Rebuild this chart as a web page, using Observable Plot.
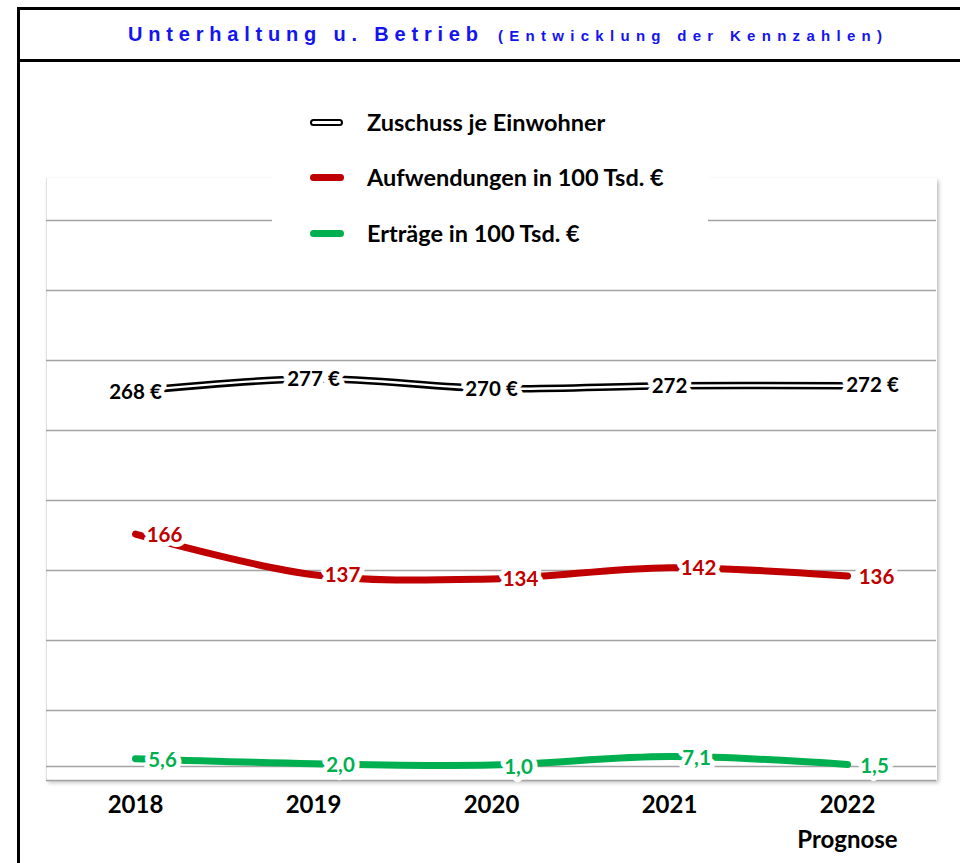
<!DOCTYPE html>
<html><head><meta charset="utf-8">
<script src="https://cdn.jsdelivr.net/npm/d3@7"></script>
<script src="https://cdn.jsdelivr.net/npm/@observablehq/plot@0.6"></script>
<style>
html,body{margin:0;padding:0;background:#fff;}
#page{position:relative;width:960px;height:863px;overflow:hidden;font-family:Lato, sans-serif;}
#frameLeft{position:absolute;left:17px;top:7px;width:2.5px;height:900px;background:#000;}
#frameTop{position:absolute;left:17px;top:7px;width:960px;height:2.5px;background:#000;}
#frameSep{position:absolute;left:17px;top:59px;width:960px;height:2.5px;background:#000;}
#titlesvg{position:absolute;left:0;top:0;}
#plotbox{position:absolute;left:46px;top:178px;width:890px;height:602px;background:#fff;
  border-left:1px solid #e2e2e2;box-shadow:2px 3px 4px rgba(0,0,0,0.22), 1px 0 2px rgba(0,0,0,0.06);}
#chart{position:absolute;left:0;top:70px;}
#legend{position:absolute;left:272px;top:95px;width:436px;height:160px;background:#fff;}
.li{position:absolute;left:95px;font:bold 23.5px Lato, sans-serif;line-height:28px;color:#000;white-space:nowrap;}
.sw{position:absolute;left:38px;width:34px;border-radius:4px;}
</style></head>
<body><div id="page">
<div id="frameLeft"></div><div id="frameTop"></div><div id="frameSep"></div>
<svg id="titlesvg" width="960" height="60">
  <text x="128" y="41" textLength="350" lengthAdjust="spacing" font-family="Liberation Sans Narrow, Liberation Sans, Arial, sans-serif" font-weight="bold" font-size="20" fill="#1414f0">Unterhaltung u. Betrieb</text>
  <text x="498" y="41" textLength="384" lengthAdjust="spacing" font-family="Liberation Sans Narrow, Liberation Sans, Arial, sans-serif" font-weight="bold" font-size="15" fill="#1414f0">(Entwicklung der Kennzahlen)</text>
</svg>
<div id="plotbox"></div>
<div id="chartwrap"></div>
<div id="legend"></div>
</div>
<script>
const years = ["2018", "2019", "2020", "2021", "2022"];
const zuschuss = [268, 277, 270, 272, 272];
const zuschussLabels = ["268 €", "277 €", "270 €", "272", "272 €"];
const aufwendungen = [166, 137, 134, 142, 136];
const ertraege = [5.6, 2.0, 1.0, 7.1, 1.5];
const gridValues = [-10, 40, 90, 140, 190, 240, 290, 340, 390];
const zeroLine = [0];
const xTickExtra = {"2022": "Prognose"};
const seriesNames = ["Zuschuss je Einwohner", "Aufwendungen in 100 Tsd. €", "Erträge in 100 Tsd. €"];
const colors = {zuschuss: "#000000", aufwendungen: "#c00000", ertraege: "#00b050"};

const fmtDE = v => v.toFixed(1).replace(".", ",");
const z = years.map((year, i) => ({year, value: zuschuss[i], label: zuschussLabels[i]}));
const a = years.map((year, i) => ({year, value: aufwendungen[i], label: String(aufwendungen[i])}));
const e = years.map((year, i) => ({year, value: ertraege[i], label: fmtDE(ertraege[i])}));

const textBase = {x: "year", y: "value", text: "label", fontSize: 20.5, fontWeight: "bold",
  stroke: "white", strokeWidth: 10, paintOrder: "stroke", strokeLinejoin: "round"};

const chart = Plot.plot({
  width: 960, height: 793,
  marginTop: 108, marginBottom: 83, marginLeft: 46, marginRight: 24,
  style: {background: "transparent", fontFamily: "Lato, sans-serif", overflow: "visible"},
  x: {type: "point", domain: years, padding: 0.5, label: null},
  y: {domain: [-10, 420], axis: null},
  marks: [
    Plot.ruleY(gridValues, {stroke: "#a3a3a3", strokeWidth: 1.3}),
    Plot.ruleY(zeroLine, {stroke: "#a3a3a3", strokeWidth: 1.3}),
    Plot.line(z, {x: "year", y: "value", stroke: colors.zuschuss, strokeWidth: 7.5, curve: "catmull-rom"}),
    Plot.line(z, {x: "year", y: "value", stroke: "#ffffff", strokeWidth: 2.4, curve: "catmull-rom"}),
    Plot.line(a, {x: "year", y: "value", stroke: colors.aufwendungen, strokeWidth: 7, curve: "catmull-rom", strokeLinecap: "round"}),
    Plot.line(e, {x: "year", y: "value", stroke: colors.ertraege, strokeWidth: 7, curve: "catmull-rom", strokeLinecap: "round"}),
    Plot.text(z, {...textBase, filter: d => d.year !== "2022", fill: colors.zuschuss, dy: 1}),
    Plot.text(z, {...textBase, filter: d => d.year === "2022", fill: colors.zuschuss, dx: 25, dy: 0}),
    Plot.text(a, {...textBase, fill: colors.aufwendungen, dx: 29, dy: 1}),
    Plot.text(e, {...textBase, fill: colors.ertraege, dx: 27, dy: 2}),
    Plot.axisX({tickSize: 0, tickPadding: 8, fontSize: 24, fontWeight: "bold", lineHeight: 1.46, label: null,
      tickFormat: d => xTickExtra[d] ? d + "\n" + xTickExtra[d] : d})
  ]
});
chart.id = "chart";
document.getElementById("chartwrap").appendChild(chart);

// Legend
const legend = document.getElementById("legend");
const centers = [28, 83, 139];
const swatchStyles = [
  "height:3px;border:2.5px solid #000;background:#fff;width:29px;",
  "height:7px;background:" + colors.aufwendungen + ";",
  "height:7px;background:" + colors.ertraege + ";"
];
seriesNames.forEach((name, i) => {
  const sw = document.createElement("div");
  sw.className = "sw";
  sw.style.cssText += swatchStyles[i] + "top:" + (centers[i] - 4) + "px;";
  legend.appendChild(sw);
  const t = document.createElement("div");
  t.className = "li";
  t.textContent = name;
  t.style.top = (centers[i] - 15) + "px";
  legend.appendChild(t);
});
</script>
</body></html>
